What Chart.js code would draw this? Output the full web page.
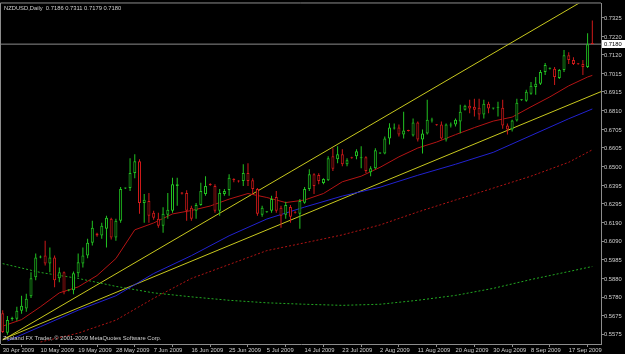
<!DOCTYPE html>
<html>
<head>
<meta charset="utf-8">
<script src="https://cdn.jsdelivr.net/npm/chart.js@4.4.1/dist/chart.umd.min.js"></script>
<style>
  html, body { margin: 0; padding: 0; background: #000; }
  #wrap { width: 625px; height: 354px; }
</style>
</head>
<body>
<div id="wrap"><canvas id="chart" width="625" height="354"></canvas></div>
<script>
// NZDUSD daily, 30 Apr 2009 .. 23 Sep 2009 (bar index 0..125, Sunday bars included)
const symbolTitle = 'NZDUSD,Daily';
const copyrightText = 'Zealand FX Trader, \u00a9 2001-2009 MetaQuotes Software Corp.';

const opens = [
  0.5690, 0.5582, 0.5658, 0.5660, 0.5704, 0.5716, 0.5785, 0.5889, 0.5999, 0.6010,
  0.5966, 0.5999, 0.5884, 0.5917, 0.5816, 0.5818, 0.5911, 0.5966, 0.6010, 0.6081,
  0.6131, 0.6120, 0.6158, 0.6213, 0.6109, 0.6202, 0.6381, 0.6383, 0.6466, 0.6532,
  0.6301, 0.6312, 0.6246, 0.6213, 0.6175, 0.6235, 0.6257, 0.6394, 0.6358, 0.6356,
  0.6274, 0.6257, 0.6290, 0.6351, 0.6405, 0.6394, 0.6257, 0.6351, 0.6373, 0.6433,
  0.6422, 0.6422, 0.6466, 0.6427, 0.6378, 0.6235, 0.6250, 0.6257, 0.6334, 0.6274,
  0.6235, 0.6279, 0.6250, 0.6241, 0.6302, 0.6378, 0.6460, 0.6455, 0.6411, 0.6427,
  0.6560, 0.6543, 0.6570, 0.6515, 0.6552, 0.6559, 0.6548, 0.6554, 0.6471, 0.6493,
  0.6575, 0.6575, 0.6658, 0.6713, 0.6718, 0.6680, 0.6702, 0.6674, 0.6746, 0.6652,
  0.6685, 0.6757, 0.6734, 0.6735, 0.6652, 0.6729, 0.6735, 0.6751, 0.6817, 0.6839,
  0.6834, 0.6828, 0.6790, 0.6850, 0.6823, 0.6828, 0.6828, 0.6729, 0.6707, 0.6757,
  0.6870, 0.6867, 0.6905, 0.6943, 0.6960, 0.7026, 0.7043, 0.7043, 0.6993, 0.7037,
  0.7119, 0.7092, 0.7072, 0.7070, 0.7053, 0.7186
];
const highs = [
  0.5707, 0.5675, 0.5671, 0.5726, 0.5787, 0.5798, 0.5917, 0.6021, 0.6010, 0.6092,
  0.6054, 0.6010, 0.5944, 0.5922, 0.5823, 0.5922, 0.6021, 0.6054, 0.6103, 0.6202,
  0.6136, 0.6191, 0.6230, 0.6219, 0.6213, 0.6389, 0.6386, 0.6548, 0.6570, 0.6543,
  0.6350, 0.6356, 0.6257, 0.6246, 0.6277, 0.6356, 0.6440, 0.6440, 0.6362, 0.6371,
  0.6285, 0.6301, 0.6412, 0.6449, 0.6410, 0.6405, 0.6378, 0.6378, 0.6460, 0.6438,
  0.6427, 0.6515, 0.6521, 0.6438, 0.6383, 0.6285, 0.6255, 0.6340, 0.6367, 0.6285,
  0.6307, 0.6290, 0.6255, 0.6323, 0.6389, 0.6487, 0.6465, 0.6465, 0.6438, 0.6559,
  0.6603, 0.6614, 0.6598, 0.6548, 0.6556, 0.6598, 0.6614, 0.6559, 0.6504, 0.6603,
  0.6581, 0.6669, 0.6742, 0.6740, 0.6735, 0.6806, 0.6706, 0.6768, 0.6751, 0.6707,
  0.6872, 0.6773, 0.6738, 0.6751, 0.6740, 0.6746, 0.6768, 0.6844, 0.6844, 0.6872,
  0.6878, 0.6878, 0.6872, 0.6861, 0.6828, 0.6861, 0.6872, 0.6740, 0.6762, 0.6878,
  0.6875, 0.6927, 0.6971, 0.6998, 0.7037, 0.7075, 0.7050, 0.7053, 0.7042, 0.7147,
  0.7135, 0.7108, 0.7076, 0.7092, 0.7240, 0.7311
];
const lows = [
  0.5581, 0.5571, 0.5649, 0.5649, 0.5688, 0.5699, 0.5774, 0.5873, 0.5994, 0.5955,
  0.5917, 0.5834, 0.5862, 0.5796, 0.5812, 0.5796, 0.5889, 0.5944, 0.5994, 0.6065,
  0.6114, 0.6103, 0.6054, 0.6098, 0.6092, 0.6191, 0.6378, 0.6367, 0.6438, 0.6241,
  0.6191, 0.6191, 0.6208, 0.6164, 0.6136, 0.6213, 0.6246, 0.6285, 0.6348, 0.6202,
  0.6202, 0.6213, 0.6285, 0.6340, 0.6396, 0.6246, 0.6230, 0.6340, 0.6340, 0.6416,
  0.6414, 0.6394, 0.6394, 0.6350, 0.6230, 0.6224, 0.6247, 0.6246, 0.6246, 0.6164,
  0.6213, 0.6191, 0.6242, 0.6158, 0.6296, 0.6367, 0.6350, 0.6405, 0.6405, 0.6422,
  0.6477, 0.6521, 0.6504, 0.6504, 0.6545, 0.6543, 0.6493, 0.6466, 0.6449, 0.6488,
  0.6572, 0.6570, 0.6625, 0.6707, 0.6669, 0.6658, 0.6696, 0.6669, 0.6641, 0.6575,
  0.6680, 0.6746, 0.6728, 0.6652, 0.6641, 0.6718, 0.6724, 0.6686, 0.6812, 0.6798,
  0.6779, 0.6762, 0.6768, 0.6798, 0.6818, 0.6779, 0.6712, 0.6680, 0.6696, 0.6751,
  0.6866, 0.6861, 0.6900, 0.6900, 0.6954, 0.7009, 0.7040, 0.6954, 0.6987, 0.7026,
  0.7070, 0.7064, 0.7066, 0.7009, 0.7048, 0.7179
];
const closes = [
  0.5586, 0.5653, 0.5661, 0.5704, 0.5732, 0.5771, 0.5884, 0.5999, 0.6004, 0.5966,
  0.5999, 0.5873, 0.5917, 0.5807, 0.5818, 0.5911, 0.5972, 0.6010, 0.6081, 0.6164,
  0.6120, 0.6175, 0.6219, 0.6109, 0.6202, 0.6378, 0.6383, 0.6466, 0.6532, 0.6301,
  0.6318, 0.6230, 0.6219, 0.6175, 0.6241, 0.6263, 0.6405, 0.6405, 0.6352, 0.6257,
  0.6213, 0.6290, 0.6367, 0.6394, 0.6400, 0.6257, 0.6356, 0.6367, 0.6440, 0.6427,
  0.6420, 0.6466, 0.6422, 0.6378, 0.6241, 0.6274, 0.6252, 0.6323, 0.6257, 0.6230,
  0.6290, 0.6224, 0.6247, 0.6312, 0.6378, 0.6460, 0.6395, 0.6422, 0.6433, 0.6548,
  0.6490, 0.6570, 0.6515, 0.6537, 0.6548, 0.6587, 0.6554, 0.6477, 0.6493, 0.6592,
  0.6578, 0.6658, 0.6718, 0.6718, 0.6680, 0.6702, 0.6699, 0.6746, 0.6652, 0.6685,
  0.6762, 0.6762, 0.6731, 0.6658, 0.6735, 0.6735, 0.6762, 0.6806, 0.6839, 0.6823,
  0.6817, 0.6790, 0.6850, 0.6823, 0.6826, 0.6834, 0.6729, 0.6707, 0.6757, 0.6856,
  0.6872, 0.6916, 0.6949, 0.6960, 0.7026, 0.7064, 0.7047, 0.6998, 0.7037, 0.7119,
  0.7092, 0.7070, 0.7069, 0.7053, 0.7180, 0.7180
];

// date axis: a label every 8 bars
const dateTickBars = [0, 8, 16, 24, 32, 40, 48, 56, 64, 72, 80, 88, 96, 104, 112, 120];
const dateTickLabels = [
  '30 Apr 2009', '10 May 2009', '19 May 2009', '28 May 2009', '7 Jun 2009', '16 Jun 2009',
  '25 Jun 2009', '5 Jul 2009', '14 Jul 2009', '23 Jul 2009', '2 Aug 2009', '11 Aug 2009',
  '20 Aug 2009', '30 Aug 2009', '8 Sep 2009', '17 Sep 2009'
];
const priceTicks = [
  0.7325, 0.7220, 0.7120, 0.7015, 0.6915, 0.6810, 0.6705, 0.6605, 0.6500,
  0.6395, 0.6295, 0.6190, 0.6090, 0.5985, 0.5880, 0.5780, 0.5675, 0.5575
];

// moving averages
const fastMaBars = [0, 4, 8, 12, 16, 20, 24, 28, 32, 36, 40, 44, 48, 52, 56, 60, 64,
  68, 72, 76, 80, 84, 88, 92, 96, 100, 104, 108, 112, 116, 120, 124, 125];
const fastMa = [0.5619, 0.5655, 0.5726, 0.5803, 0.5836, 0.5899, 0.5993, 0.6152, 0.6190,
  0.6240, 0.6259, 0.6284, 0.6322, 0.6353, 0.6331, 0.6303, 0.6317, 0.6353, 0.6418, 0.6449,
  0.6498, 0.6556, 0.6605, 0.6638, 0.6679, 0.6718, 0.6754, 0.6776, 0.6833, 0.6888, 0.6949,
  0.6998, 0.7007];
const midMaBars = [1, 8, 16, 24, 32, 40, 48, 56, 64, 72, 80, 88, 96, 104, 112, 120, 125];
const midMa = [0.5537, 0.5616, 0.5707, 0.5787, 0.5910, 0.6009, 0.6119, 0.6212, 0.6278,
  0.6339, 0.6388, 0.6454, 0.6515, 0.6581, 0.6674, 0.6767, 0.6821];
const slowMaBars = [8, 16, 24, 32, 40, 48, 56, 64, 72, 80, 88, 96, 104, 112, 120, 125];
const slowMa = [0.5531, 0.5580, 0.5652, 0.5773, 0.5883, 0.5960, 0.6037, 0.6080, 0.6124,
  0.6179, 0.6251, 0.6317, 0.6383, 0.6449, 0.6526, 0.6595];
const longMaBars = [0, 8, 16, 24, 32, 40, 48, 56, 64, 72, 80, 88, 96, 104, 112, 120, 125];
const longMa = [0.5965, 0.5916, 0.5883, 0.5839, 0.5803, 0.5781, 0.5762, 0.5748, 0.5740,
  0.5734, 0.5740, 0.5762, 0.5789, 0.5828, 0.5877, 0.5921, 0.5949];

// trend lines (bar index, price)
const channelTopBars = [0, 126.84];
const channelTopPrices = [0.5542, 0.7478];
const channelLowBars = [0, 126.84];
const channelLowPrices = [0.5546, 0.6917];

const lastBar = { open: 0.7186, high: 0.7311, low: 0.7179, close: 0.7180 };
const xMin = -0.36, xMax = 126.84;
const yMin = 0.5520, yMax = 0.7405;

const bullColor = '#22c422';
const bearColor = '#d01a1a';
const axisGrey = '#8c8c8c';
const textGrey = '#d0d0d0';
const fontFamily = "'Liberation Sans', Arial, sans-serif";

const barIndex = opens.map((_, i) => i);
const candleColors = barIndex.map(i => closes[i] >= opens[i] ? bullColor : bearColor);
const pts = (xs, ys) => xs.map((x, k) => ({ x: x, y: ys[k] }));

const mt4Overlay = {
  id: 'mt4Overlay',
  beforeDraw(chart) {
    const ctx = chart.ctx;
    ctx.save();
    ctx.fillStyle = '#000';
    ctx.fillRect(0, 0, chart.width, chart.height);
    ctx.restore();
  },
  afterDraw(chart) {
    const ctx = chart.ctx;
    const a = chart.chartArea;
    ctx.save();
    // frame
    ctx.strokeStyle = axisGrey;
    ctx.lineWidth = 1;
    ctx.beginPath();
    ctx.moveTo(a.left - 0.5, a.bottom);
    ctx.lineTo(a.left - 0.5, a.top - 0.5);
    ctx.lineTo(a.right, a.top - 0.5);
    ctx.stroke();
    // header and copyright
    ctx.font = '5.8px ' + fontFamily;
    ctx.fillStyle = textGrey;
    ctx.textBaseline = 'middle';
    ctx.textAlign = 'left';
    const hdr = symbolTitle + '  ' + [lastBar.open, lastBar.high, lastBar.low, lastBar.close]
      .map(v => v.toFixed(4)).join(' ');
    ctx.fillText(hdr, a.left + 3, a.top + 5);
    ctx.fillText(copyrightText, a.left + 2, a.bottom - 6);
    // bid price marker on the axis
    const yb = Math.round(chart.scales.y.getPixelForValue(lastBar.close));
    ctx.fillStyle = '#ffffff';
    ctx.fillRect(a.right + 1, yb - 4, chart.width - a.right - 1, 8);
    ctx.fillStyle = '#000';
    ctx.fillText(lastBar.close.toFixed(4), a.right + 3, yb);
    ctx.restore();
  }
};

const lineSet = (label, data, color, dash, order) => ({
  type: 'line', label: label, data: data, borderColor: color, borderWidth: 1,
  borderDash: dash, pointRadius: 0, fill: false, tension: 0, order: order
});

new Chart(document.getElementById('chart'), {
  type: 'bar',
  data: {
    datasets: [
      {
        label: 'Body', data: pts(barIndex, barIndex.map(i => [opens[i], closes[i]])),
        backgroundColor: '#000', borderColor: candleColors, borderWidth: 1,
        borderSkipped: false, barThickness: 3, minBarLength: 1, grouped: false,
        inflateAmount: 0, order: 0
      },
      {
        label: 'Wick', data: pts(barIndex, barIndex.map(i => [lows[i], highs[i]])),
        backgroundColor: candleColors, borderWidth: 0, barThickness: 1,
        grouped: false, inflateAmount: 0, order: 1
      },
      lineSet('MA fast', pts(fastMaBars, fastMa), '#b41414', [], 2),
      lineSet('MA mid', pts(midMaBars, midMa), '#2222d0', [], 2),
      lineSet('MA slow', pts(slowMaBars, slowMa), '#b01414', [2, 2], 2),
      lineSet('MA long', pts(longMaBars, longMa), '#22a822', [2, 2], 2),
      lineSet('Channel top', pts(channelTopBars, channelTopPrices), '#c8c81e', [], 3),
      lineSet('Channel low', pts(channelLowBars, channelLowPrices), '#c8c81e', [], 3),
      lineSet('Bid', pts([xMin, xMax], [lastBar.close, lastBar.close]), axisGrey, [], 4)
    ]
  },
  options: {
    responsive: false,
    animation: false,
    devicePixelRatio: 1,
    layout: { padding: { top: 1, left: 1, right: 0, bottom: 0 } },
    plugins: { legend: { display: false }, tooltip: { enabled: false }, title: { display: false } },
    scales: {
      x: {
        type: 'linear', min: xMin, max: xMax, offset: false,
        afterBuildTicks: s => { s.ticks = dateTickBars.map(v => ({ value: v })); },
        afterFit: s => { s.height = 10; },
        ticks: {
          autoSkip: false, maxRotation: 0, align: 'start', padding: 0,
          color: textGrey, font: { family: fontFamily, size: 5.8 },
          callback: (v, i) => dateTickLabels[i]
        },
        grid: { drawOnChartArea: false, drawTicks: true, tickLength: 3, color: axisGrey },
        border: { display: true, color: axisGrey }
      },
      y: {
        type: 'linear', position: 'right', min: yMin, max: yMax,
        afterBuildTicks: s => { s.ticks = priceTicks.map(v => ({ value: v })); },
        afterFit: s => { s.width = 24; },
        ticks: {
          padding: 0, color: textGrey, font: { family: fontFamily, size: 5.8 },
          callback: v => v.toFixed(4)
        },
        grid: { drawOnChartArea: false, drawTicks: true, tickLength: 3, color: axisGrey },
        border: { display: true, color: axisGrey }
      }
    }
  },
  plugins: [mt4Overlay]
});
</script>
</body>
</html>
